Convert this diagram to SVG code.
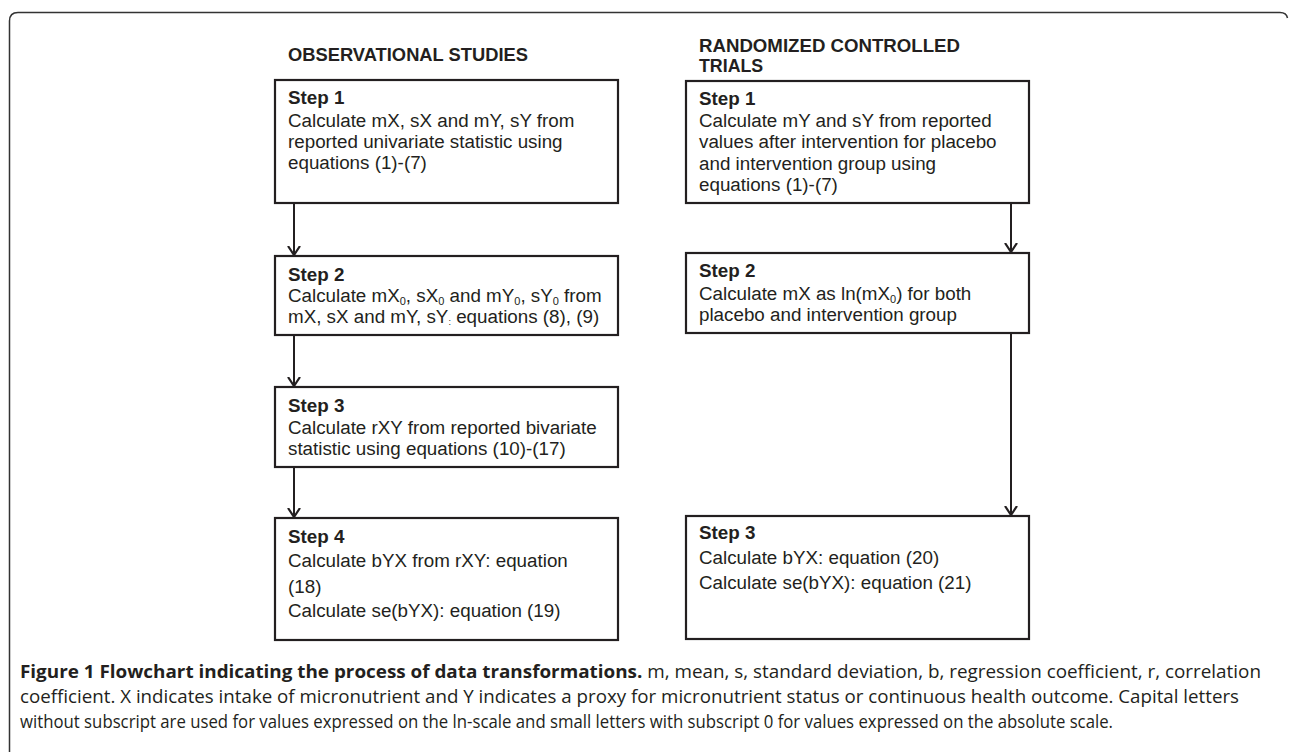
<svg xmlns="http://www.w3.org/2000/svg" width="1290" height="752" viewBox="0 0 1290 752">
<defs>
<style>
.box{fill:#fff;stroke:#231f20;stroke-width:2.2}
.t{font-family:"Liberation Sans",Arial,sans-serif;font-size:18.8px;fill:#231f20}
.b{font-weight:bold}
.sub{font-size:11px}
.h{font-family:"Liberation Sans",Arial,sans-serif;font-size:17.8px;font-weight:bold;fill:#231f20}
.cap{font-family:"Open Sans","Liberation Sans",sans-serif;font-size:18px;fill:#231f20}
.conn{fill:none;stroke:#231f20;stroke-width:2}
.frame{fill:none;stroke:#333;stroke-width:1.5}
</style>
<marker id="arr" viewBox="0 0 10 14" refX="9" refY="7" markerWidth="10" markerHeight="14" markerUnits="userSpaceOnUse" orient="auto">
<path d="M0,1 L9,7 L0,13" fill="none" stroke="#231f20" stroke-width="2.2"/>
</marker>
</defs>
<rect width="1290" height="752" fill="#fff"/>
<path class="frame" d="M9.5,760 V21 Q9.5,12.5 18,12.5 H1280 Q1286.5,12.5 1287.5,18"/>

<text class="h" x="288" y="61" textLength="240" lengthAdjust="spacingAndGlyphs">OBSERVATIONAL STUDIES</text>
<text class="h" x="699" y="52" textLength="261" lengthAdjust="spacingAndGlyphs">RANDOMIZED CONTROLLED</text>
<text class="h" x="699" y="72">TRIALS</text>

<g id="connectors">
<path class="conn" d="M294,203 V255" marker-end="url(#arr)"/>
<path class="conn" d="M294,335 V386" marker-end="url(#arr)"/>
<path class="conn" d="M294,467 V517" marker-end="url(#arr)"/>
<path class="conn" d="M1011,203 V252" marker-end="url(#arr)"/>
<path class="conn" d="M1011,333 V515" marker-end="url(#arr)"/>
</g>

<g id="os1">
<rect class="box" x="275" y="80" width="343" height="123"/>
<text class="t b" x="288" y="104">Step 1</text>
<text class="t" x="288" y="127">Calculate mX, sX and mY, sY from</text>
<text class="t" x="288" y="148">reported univariate statistic using</text>
<text class="t" x="288" y="169">equations (1)-(7)</text>
</g>
<g id="os2">
<rect class="box" x="275" y="256" width="343" height="79"/>
<text class="t b" x="288" y="281">Step 2</text>
<text class="t" x="288" y="302">Calculate mX<tspan class="sub" dy="3">0</tspan><tspan dy="-3">, sX</tspan><tspan class="sub" dy="3">0</tspan><tspan dy="-3"> and mY</tspan><tspan class="sub" dy="3">0</tspan><tspan dy="-3">, sY</tspan><tspan class="sub" dy="3">0</tspan><tspan dy="-3"> from</tspan></text>
<text class="t" x="288" y="323">mX, sX and mY, sY<tspan font-size="9" dy="2">:</tspan><tspan dy="-2"> equations (8), (9)</tspan></text>
</g>
<g id="os3">
<rect class="box" x="275" y="387" width="343" height="80"/>
<text class="t b" x="288" y="412">Step 3</text>
<text class="t" x="288" y="434">Calculate rXY from reported bivariate</text>
<text class="t" x="288" y="455">statistic using equations (10)-(17)</text>
</g>
<g id="os4">
<rect class="box" x="275" y="518" width="343" height="122"/>
<text class="t b" x="288" y="543">Step 4</text>
<text class="t" x="288" y="567">Calculate bYX from rXY: equation</text>
<text class="t" x="288" y="593">(18)</text>
<text class="t" x="288" y="617">Calculate se(bYX): equation (19)</text>
</g>

<g id="rct1">
<rect class="box" x="686" y="81" width="343" height="122"/>
<text class="t b" x="699" y="105">Step 1</text>
<text class="t" x="699" y="127">Calculate mY and sY from reported</text>
<text class="t" x="699" y="148">values after intervention for placebo</text>
<text class="t" x="699" y="170">and intervention group using</text>
<text class="t" x="699" y="191">equations (1)-(7)</text>
</g>
<g id="rct2">
<rect class="box" x="686" y="253" width="343" height="80"/>
<text class="t b" x="699" y="277">Step 2</text>
<text class="t" x="699" y="300">Calculate mX as ln(mX<tspan class="sub" dy="3">0</tspan><tspan dy="-3">) for both</tspan></text>
<text class="t" x="699" y="321">placebo and intervention group</text>
</g>
<g id="rct3">
<rect class="box" x="686" y="516" width="343" height="123"/>
<text class="t b" x="699" y="539">Step 3</text>
<text class="t" x="699" y="564">Calculate bYX: equation (20)</text>
<text class="t" x="699" y="589">Calculate se(bYX): equation (21)</text>
</g>

<g id="caption">
<text class="cap" x="20" y="678" textLength="1241" lengthAdjust="spacingAndGlyphs"><tspan font-weight="bold">Figure 1 Flowchart indicating the process of data transformations.</tspan> m, mean, s, standard deviation, b, regression coefficient, r, correlation</text>
<text class="cap" x="20" y="703" textLength="1219" lengthAdjust="spacingAndGlyphs">coefficient. X indicates intake of micronutrient and Y indicates a proxy for micronutrient status or continuous health outcome. Capital letters</text>
<text class="cap" x="20" y="728" textLength="1093" lengthAdjust="spacingAndGlyphs">without subscript are used for values expressed on the ln-scale and small letters with subscript 0 for values expressed on the absolute scale.</text>
</g>
</svg>
